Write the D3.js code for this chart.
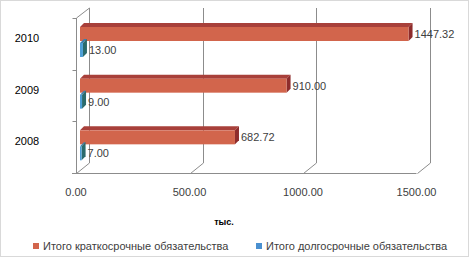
<!DOCTYPE html>
<html>
<head>
<meta charset="utf-8">
<script src="https://cdn.jsdelivr.net/npm/d3@7"></script>
<style>
  body { margin: 0; background: #fff; }
  text { font-family: "Liberation Sans", Arial, sans-serif; }
</style>
</head>
<body>
<svg></svg>
<script>
// years shown top to bottom
const years = ["2010", "2009", "2008"];
const seriesNames = ["Итого краткосрочные обязательства", "Итого долгосрочные обязательства"];
const shortTerm = [1447.32, 910.00, 682.72];
const longTerm = [13.00, 9.00, 7.00];
const xTicks = [0, 500, 1000, 1500];
const axisTitle = "тыс.";

const W = 472, H = 259;
const svg = d3.select("svg").attr("width", W).attr("height", H);

// border of the chart area
svg.append("rect")
    .attr("x", 0.5).attr("y", 0.5)
    .attr("width", 468).attr("height", 256)
    .attr("fill", "none")
    .attr("stroke", "#d9d9d9");

const depth = { dx: 13, dy: -10 };   // front -> back wall offset
const barDepth = { dx: 4, dy: -4 };  // thickness of each 3d bar
const barShift = 4;                  // bars sit a bit behind the front plane

const x = d3.scaleLinear().domain([0, 1500]).range([76, 416.5]);
const y = d3.scaleBand().domain(years).range([18, 173]);
const ySeries = d3.scaleBand().domain(seriesNames).range([9, 39]).paddingInner(0.125);

const colors = {
    [seriesNames[0]]: { front: "#d2654c", top: "#a8403a", side: "#8e2c2c", legend: "#d2654c" },
    [seriesNames[1]]: { front: "#4c9ed6", top: "#3b7fae", side: "#2b6b6c", legend: "#4a90d0" }
};

const grid = svg.append("g").attr("stroke", "#8c8c8c").attr("stroke-width", 1).attr("fill", "none");
const yFloor = 173, yTop = 18;

// back wall gridlines + floor diagonals
xTicks.forEach(v => {
    const fx = Math.round(x(v)) + 0.5;
    grid.append("line")
        .attr("x1", fx + depth.dx).attr("x2", fx + depth.dx)
        .attr("y1", yFloor + depth.dy).attr("y2", yTop + depth.dy);
    grid.append("line")
        .attr("x1", fx).attr("y1", yFloor + 0.5)
        .attr("x2", fx + depth.dx).attr("y2", yFloor + depth.dy);
});
// floor front edge
grid.append("line")
    .attr("x1", x(0) - 4).attr("x2", x(1500))
    .attr("y1", yFloor + 0.5).attr("y2", yFloor + 0.5);
// left wall front edge and top
const lx = Math.round(x(0)) + 0.5;
grid.append("line").attr("x1", lx).attr("x2", lx).attr("y1", yTop).attr("y2", yFloor);
grid.append("line").attr("x1", lx).attr("y1", yTop)
    .attr("x2", lx + depth.dx).attr("y2", yTop + depth.dy);
// category ticks
y.domain().concat(["end"]).forEach((c, i) => {
    const ty = Math.round(18 + i * y.step()) + 0.5;
    grid.append("line").attr("x1", lx - 4).attr("x2", lx).attr("y1", ty).attr("y2", ty);
});

// bars
const rows = [];
years.forEach((yr, i) => {
    rows.push({ year: yr, series: seriesNames[0], value: shortTerm[i] });
    rows.push({ year: yr, series: seriesNames[1], value: longTerm[i] });
});

const bars = svg.append("g");
rows.forEach(d => {
    const c = colors[d.series];
    const x0 = x(0) + barShift, x1 = x(d.value) + barShift;
    const y0 = y(d.year) + ySeries(d.series), h = ySeries.bandwidth();
    const g = bars.append("g");
    g.append("path")
        .attr("d", `M${x0},${y0} L${x0 + barDepth.dx},${y0 + barDepth.dy} L${x1 + barDepth.dx},${y0 + barDepth.dy} L${x1},${y0} Z`)
        .attr("fill", c.top);
    g.append("path")
        .attr("d", `M${x1},${y0} L${x1 + barDepth.dx},${y0 + barDepth.dy} L${x1 + barDepth.dx},${y0 + h + barDepth.dy} L${x1},${y0 + h} Z`)
        .attr("fill", c.side);
    g.append("rect")
        .attr("x", x0).attr("y", y0)
        .attr("width", x1 - x0).attr("height", h)
        .attr("fill", c.front);
    g.append("text")
        .attr("x", x1 + barDepth.dx + 2)
        .attr("y", y0 + h / 2 + 4)
        .attr("font-size", 11)
        .attr("fill", "#404040")
        .text(d.value.toFixed(2));
});

// category labels
svg.append("g").selectAll("text")
    .data(years)
    .join("text")
    .attr("x", 27)
    .attr("y", d => y(d) + 24)
    .attr("text-anchor", "middle")
    .attr("font-size", 11)
    .attr("fill", "#000")
    .text(d => d);

// value axis labels
svg.append("g").selectAll("text")
    .data(xTicks)
    .join("text")
    .attr("x", d => x(d))
    .attr("y", 196)
    .attr("text-anchor", "middle")
    .attr("font-size", 11)
    .attr("fill", "#404040")
    .text(d => d.toFixed(2));

svg.append("text")
    .attr("x", 224).attr("y", 225)
    .attr("text-anchor", "middle")
    .attr("font-size", 9)
    .attr("font-weight", "bold")
    .attr("fill", "#000")
    .text(axisTitle);

// legend
const legendX = [33, 256];
const legend = svg.append("g").selectAll("g")
    .data(seriesNames)
    .join("g")
    .attr("transform", (d, i) => `translate(${legendX[i]},243)`);
legend.append("rect")
    .attr("width", 6).attr("height", 6)
    .attr("fill", d => colors[d].legend);
legend.append("text")
    .attr("x", 10).attr("y", 6.5)
    .attr("font-size", 11)
    .attr("fill", "#404040")
    .text(d => d);
</script>
</body>
</html>
